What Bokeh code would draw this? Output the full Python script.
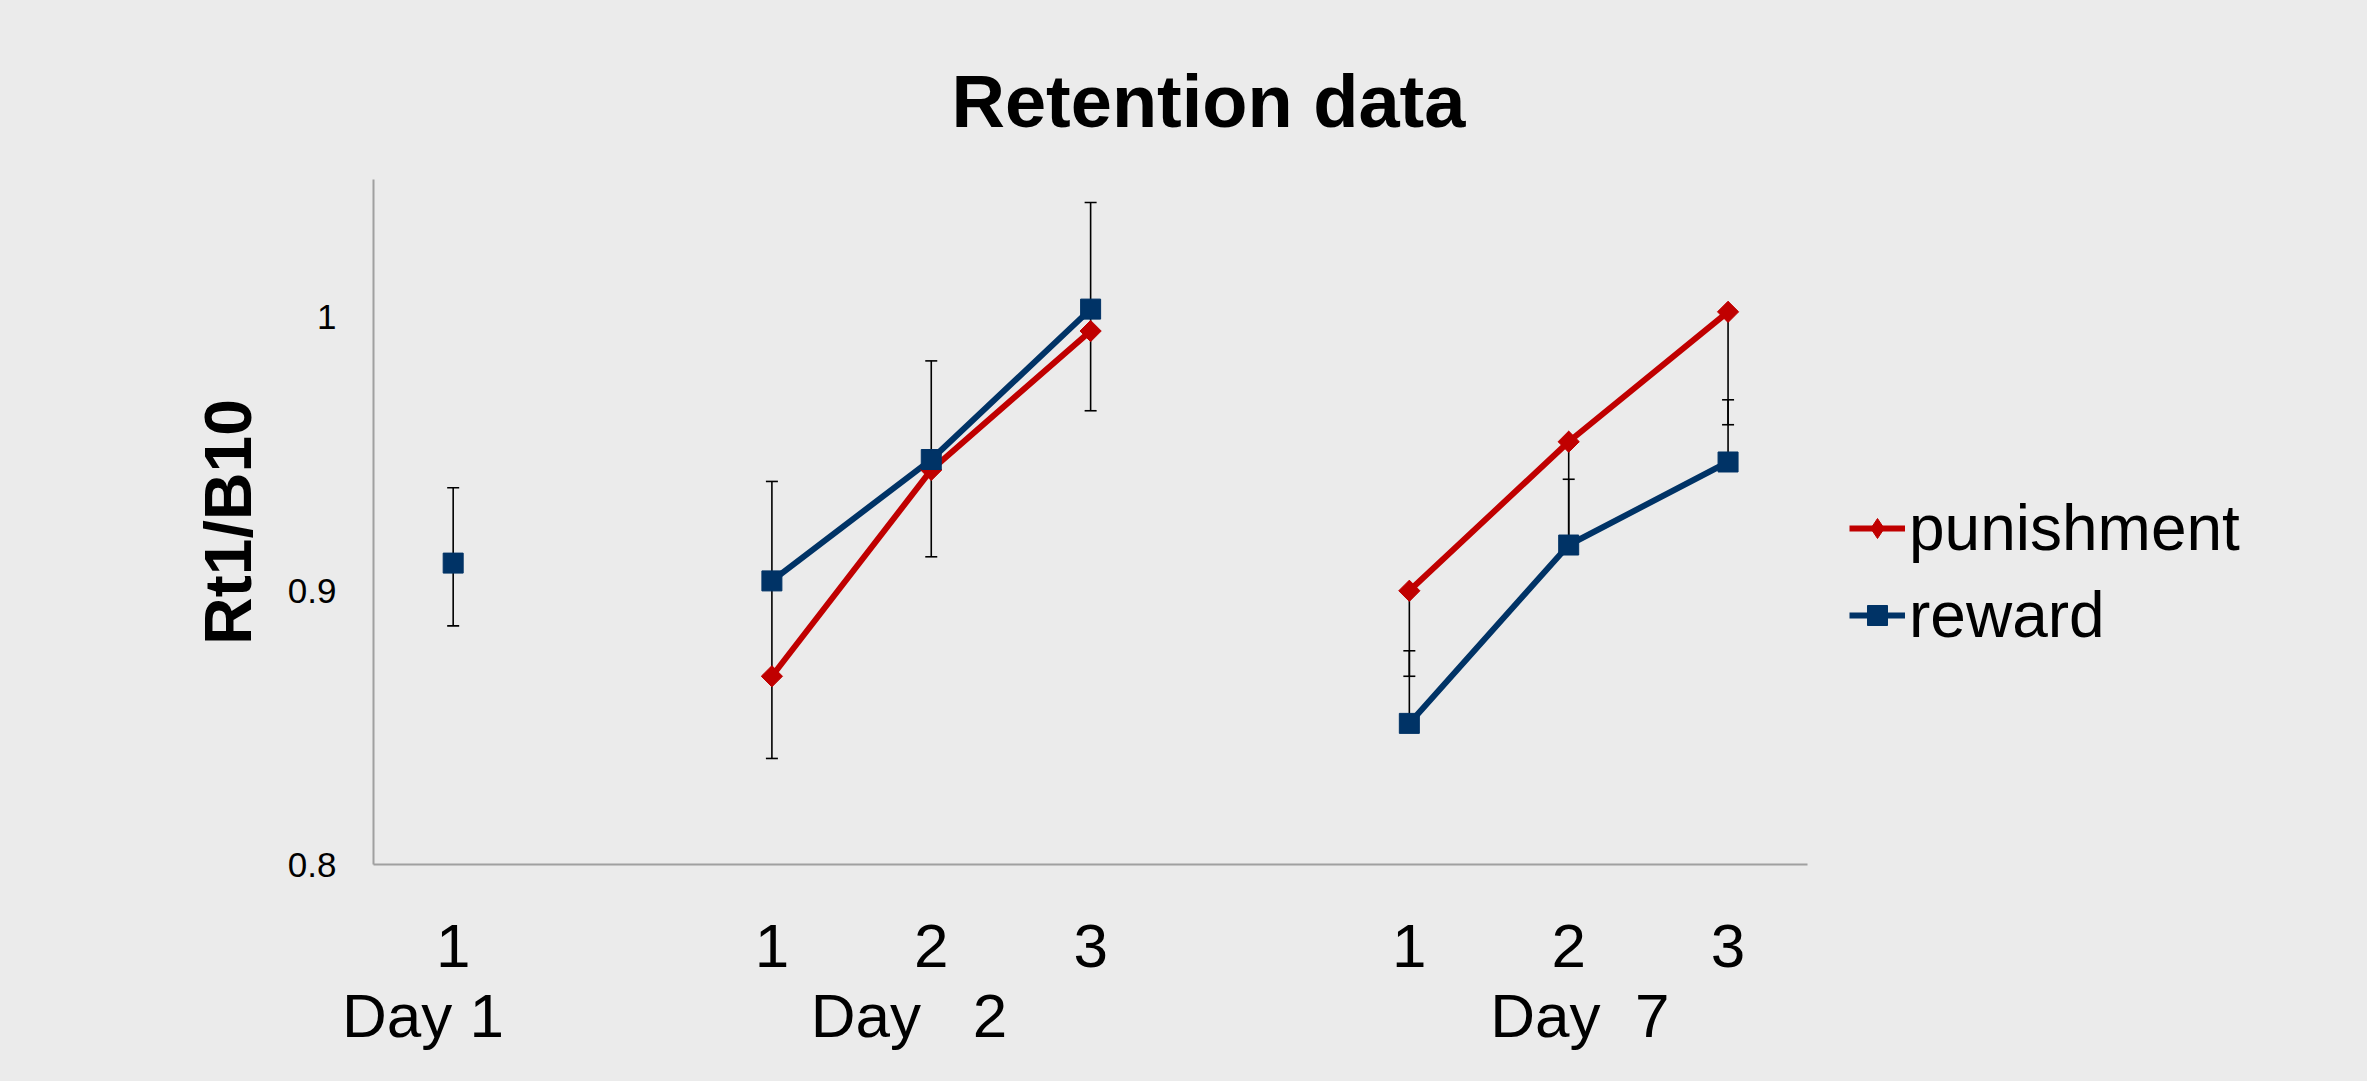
import numpy as np
from bokeh.plotting import figure
from bokeh.models import (LinearAxis, FixedTicker, CustomJSTickFormatter, Legend,
                          LegendItem, Range1d)
from bokeh.embed import file_html
from bokeh.resources import INLINE

# ---------------- data ----------------
slots_day1 = [0]
slots_day2 = [2, 3, 4]
slots_day7 = [6, 7, 8]
tick_slots = [0, 2, 3, 4, 6, 7, 8]
tick_labels = ["1", "1", "2", "3", "1", "2", "3"]
NB = "\u00a0"
day_labels = ["Day 1", "Day" + NB * 2 + " 2", "Day" + NB + " 7"]
day_label_pos = [-0.19, 2.86, 7.07]

reward_day1 = [0.910]
reward_day2 = [0.9035, 0.9478, 1.0027]
reward_day7 = [0.8515, 0.9166, 0.9469]
punish_day2 = [0.8687, 0.9440, 0.9947]
punish_day7 = [0.8999, 0.9543, 1.0017]

# error bar ends (low / high) per point, in the order day1, day2, day7
reward_err_low = [0.8871, 0.8687, 0.9123, 0.9656, 0.8515, 0.9166, 0.9469]
reward_err_high = [0.9375, 0.9398, 0.9838, 1.0416, 0.8780, 0.9406, 0.9696]
punish_err_low = [0.8387, 0.9440, 0.9947, 0.8687, 0.9166, 0.9605]
punish_err_high = [0.8687, 0.9440, 0.9947, 0.8999, 0.9543, 1.0017]

y_ticks = [0.8, 0.9, 1.0]
y_tick_labels = ["0.8", "0.9", "1"]

title_text = "Retention data"
y_title = "Rt1/B10"

# ---------------- style ----------------
BG = "#EBEBEB"
RED = "#C00000"
BLUE = "#003366"
AXIS = "#A0A0A0"
FONT = "Liberation Sans"

# the frame extends to the right edge so that the legend lies inside it;
# the drawn x axis is limited to the category slots via `bounds`
p = figure(width=2367, height=1081,
           x_range=Range1d(-0.5, 12.0), y_range=Range1d(0.8, 1.05),
           output_backend="svg", toolbar_location=None,
           min_border_left=373, min_border_right=2,
           min_border_top=179, min_border_bottom=217,
           background_fill_color=BG, border_fill_color=BG,
           outline_line_color=None)
p.xgrid.visible = False
p.ygrid.visible = False

def fmt(vals, labels):
    return CustomJSTickFormatter(args=dict(vals=list(vals), labels=list(labels)),
        code="const i = vals.findIndex(v => Math.abs(v - tick) < 1e-9); return i >= 0 ? labels[i] : '';")

# y axis
ya = p.yaxis[0]
ya.ticker = FixedTicker(ticks=y_ticks)
ya.formatter = fmt(y_ticks, y_tick_labels)
ya.axis_line_color = AXIS
ya.axis_line_width = 2
ya.major_tick_line_color = None
ya.minor_tick_line_color = None
ya.major_label_text_font = FONT
ya.major_label_text_font_size = "35px"
ya.major_label_text_color = "black"
ya.major_label_standoff = 31
ya.axis_label = y_title
ya.axis_label_text_font = FONT
ya.axis_label_text_font_style = "bold"
ya.axis_label_text_font_size = "66px"
ya.axis_label_text_color = "black"
ya.axis_label_standoff = 20

# x axis (numbers)
xa = p.xaxis[0]
xa.bounds = (-0.5, 8.5)
xa.ticker = FixedTicker(ticks=tick_slots)
xa.formatter = fmt(tick_slots, tick_labels)
xa.axis_line_color = AXIS
xa.axis_line_width = 2
xa.major_tick_line_color = None
xa.minor_tick_line_color = None
xa.major_label_text_font = FONT
xa.major_label_text_font_size = "62px"
xa.major_label_text_color = "black"
xa.major_label_standoff = 54

# x axis (days)
xd = LinearAxis(ticker=FixedTicker(ticks=day_label_pos),
                formatter=fmt(day_label_pos, day_labels))
xd.axis_line_color = None
xd.major_tick_line_color = None
xd.minor_tick_line_color = None
xd.major_label_text_font = FONT
xd.major_label_text_font_size = "62px"
xd.major_label_text_color = "black"
xd.major_label_standoff = 5
p.add_layout(xd, "below")

# title
p.title.text = title_text
p.title.text_font = FONT
p.title.text_font_size = "74px"
p.title.text_font_style = "bold"
p.title.text_color = "black"
p.title.align = "left"
p.title.offset = 578
p.title.standoff = 74

# ---------------- marks ----------------
r_x = slots_day1 + slots_day2 + slots_day7
r_y = reward_day1 + reward_day2 + reward_day7
p_x = slots_day2 + slots_day7
p_y = punish_day2 + punish_day7

# error bars
ex = r_x + p_x
elo = reward_err_low + punish_err_low
ehi = reward_err_high + punish_err_high
ev = r_y + p_y
p.segment(x0=ex, y0=elo, x1=ex, y1=ehi, line_color="black", line_width=1.6)
cap_x, cap_y = [], []
for x, lo, hi, v in zip(ex, elo, ehi, ev):
    if lo < v:
        cap_x.append(x); cap_y.append(lo)
    if hi > v:
        cap_x.append(x); cap_y.append(hi)
p.scatter(x=cap_x, y=cap_y, marker="dash", size=12, line_color="black", line_width=1.6)

# lines
pl = p.multi_line(xs=[slots_day2, slots_day7], ys=[punish_day2, punish_day7],
                  line_color=RED, line_width=6)
rl = p.multi_line(xs=[slots_day2, slots_day7], ys=[reward_day2, reward_day7],
                  line_color=BLUE, line_width=6)

# markers (a diamond marker under the rotated square provides the legend glyph)
pdm = p.scatter(x=p_x, y=p_y, marker="diamond", size=20,
                fill_color=RED, line_color=RED)
ps = p.scatter(x=p_x, y=p_y, marker="square", angle=np.pi / 4, size=15,
               fill_color=RED, line_color=RED)
rs = p.scatter(x=r_x, y=r_y, marker="square", size=20,
               fill_color=BLUE, line_color=BLUE)

legend = Legend(items=[LegendItem(label="punishment", renderers=[pl, pdm]),
                       LegendItem(label="reward", renderers=[rl, rs])],
                location=(1476, 212),
                label_text_font=FONT, label_text_font_size="64px",
                label_text_color="black",
                glyph_width=56, glyph_height=50, label_standoff=4,
                spacing=13, padding=0, margin=0,
                border_line_color=None, background_fill_alpha=0)
p.add_layout(legend, "center")

html = file_html(p, INLINE)
html = html.replace("<head>", "<head><style>html,body{background:#EBEBEB;}</style>", 1)
open("out.html", "w").write(html)
